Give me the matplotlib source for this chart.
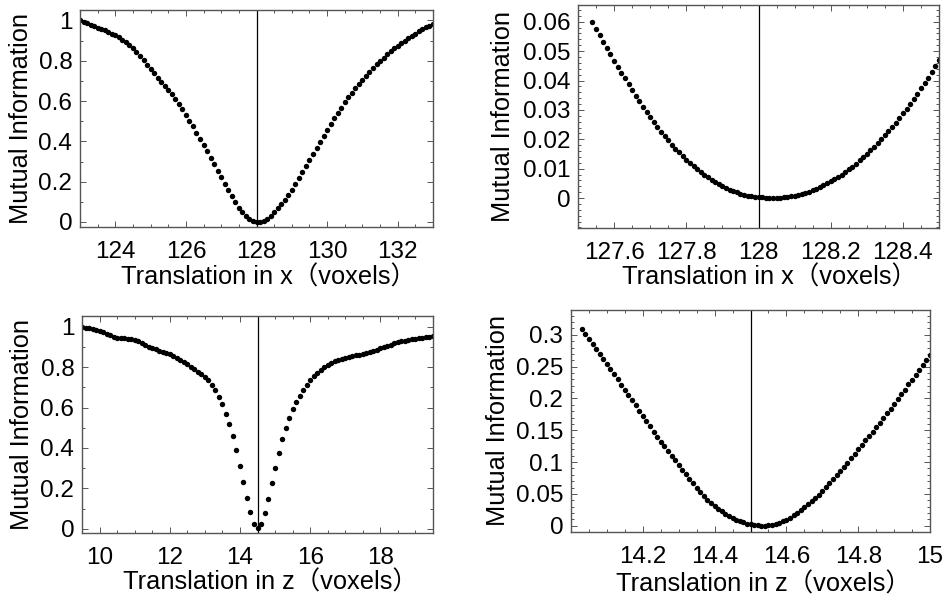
import numpy as np
import matplotlib
matplotlib.use("Agg")
import matplotlib.pyplot as plt
from matplotlib.ticker import FixedLocator, MultipleLocator

plt.rcParams['font.family'] = ['Liberation Sans', 'Noto Sans CJK SC', 'DejaVu Sans']

# ---------------- data ----------------
# Panel 1: translation in x, coarse (step 0.1 voxel)
x1_start, x1_stop, x1_step = 123.0, 133.0, 0.1
mi_x_coarse = [
    1.000, 0.994, 0.987, 0.980, 0.973, 0.965, 0.958, 0.951, 0.943, 0.935,
    0.926, 0.916, 0.905, 0.893, 0.879, 0.863, 0.845, 0.825, 0.803, 0.781,
    0.758, 0.737, 0.716, 0.695, 0.675, 0.655, 0.633, 0.610, 0.585, 0.559,
    0.531, 0.503, 0.474, 0.444, 0.414, 0.383, 0.351, 0.319, 0.286, 0.254,
    0.221, 0.189, 0.158, 0.128, 0.099, 0.071, 0.047, 0.028, 0.014, 0.005,
    0.0004, 0.001, 0.006, 0.015, 0.029, 0.047, 0.067, 0.088, 0.110, 0.134,
    0.160, 0.189, 0.220, 0.250, 0.280, 0.310, 0.339, 0.369, 0.399, 0.427,
    0.455, 0.485, 0.514, 0.542, 0.568, 0.593, 0.618, 0.642, 0.665, 0.685,
    0.705, 0.725, 0.745, 0.764, 0.782, 0.800, 0.816, 0.832, 0.847, 0.861,
    0.874, 0.887, 0.899, 0.911, 0.923, 0.935, 0.946, 0.957, 0.966, 0.975,
    0.984]

# Panel 2: translation in x, fine (step 0.01 voxel)
x2_start, x2_stop, x2_step = 127.54, 128.50, 0.01
mi_x_fine = [
    0.0598, 0.0576, 0.0554, 0.0532, 0.0511, 0.0489, 0.0467, 0.0447, 0.0427, 0.0407,
    0.0387, 0.0367, 0.0348, 0.0330, 0.0311, 0.0292, 0.0275, 0.0258, 0.0242, 0.0226,
    0.0211, 0.0196, 0.0182, 0.0168, 0.0155, 0.0143, 0.0131, 0.0120, 0.0109, 0.0099,
    0.0089, 0.0080, 0.0071, 0.0063, 0.0055, 0.0048, 0.0041, 0.0035, 0.0029, 0.0024,
    0.0019, 0.0015, 0.0011, 0.0008, 0.0006, 0.0004, 0.0003,
    0.0002, 0.0001, 0.0000, 0.0000, 0.0000, 0.0001, 0.0002, 0.0004, 0.0006, 0.0008,
    0.0011, 0.0014, 0.0018, 0.0022, 0.0027, 0.0032, 0.0038, 0.0044, 0.0050, 0.0057,
    0.0064, 0.0072, 0.0080, 0.0089, 0.0098, 0.0107, 0.0117, 0.0128, 0.0139, 0.0150,
    0.0162, 0.0174, 0.0187, 0.0200, 0.0213, 0.0227, 0.0242, 0.0257, 0.0272, 0.0288,
    0.0304, 0.0321, 0.0338, 0.0355, 0.0373, 0.0392, 0.0410, 0.0430, 0.0450, 0.0470]

# Panel 3: translation in z, coarse (step 0.1 voxel)
x3_start, x3_stop, x3_step = 9.5, 19.5, 0.1
mi_z_coarse = [
    0.998, 0.996, 0.992, 0.988, 0.983, 0.978, 0.972, 0.965, 0.957, 0.950,
    0.946, 0.944, 0.943, 0.941, 0.938, 0.934, 0.928, 0.920, 0.911, 0.902,
    0.895, 0.888, 0.882, 0.877, 0.871, 0.864, 0.856, 0.847, 0.837, 0.826,
    0.815, 0.803, 0.791, 0.778, 0.764, 0.750, 0.734, 0.713, 0.687, 0.654,
    0.615, 0.569, 0.519, 0.459, 0.390, 0.312, 0.230, 0.152, 0.081, 0.025,
    0.003, 0.025, 0.078, 0.147, 0.226, 0.303, 0.374, 0.443, 0.501, 0.550,
    0.592, 0.629, 0.659, 0.687, 0.712, 0.735, 0.755, 0.773, 0.788, 0.801,
    0.812, 0.821, 0.829, 0.835, 0.840, 0.845, 0.849, 0.853, 0.858, 0.862,
    0.866, 0.871, 0.876, 0.881, 0.887, 0.893, 0.899, 0.905, 0.911, 0.917,
    0.922, 0.927, 0.931, 0.935, 0.938, 0.941, 0.943, 0.945, 0.948, 0.951,
    0.954]

# Panel 4: translation in z, fine (step 0.01 voxel)
x4_start, x4_stop, x4_step = 14.03, 15.00, 0.01
mi_z_fine = [
    0.309, 0.302, 0.293, 0.285, 0.278, 0.270, 0.262, 0.254, 0.246, 0.238,
    0.230, 0.221, 0.214, 0.205, 0.197, 0.189, 0.181, 0.173, 0.164, 0.156,
    0.148, 0.140, 0.132, 0.125, 0.118, 0.110, 0.103, 0.095, 0.088, 0.081,
    0.074, 0.067, 0.060, 0.053, 0.046, 0.0406, 0.0355, 0.0308, 0.0264, 0.0224,
    0.0186, 0.0153, 0.0122, 0.0095, 0.0071, 0.0051, 0.0034, 0.0021, 0.0011, 0.0004,
    0.0000, 0.0000, 0.0005, 0.0015, 0.0028, 0.0047, 0.0070, 0.0097, 0.0128, 0.0164,
    0.020, 0.024, 0.029, 0.034, 0.039, 0.044, 0.049, 0.055, 0.061, 0.067,
    0.073, 0.080, 0.086, 0.093, 0.099, 0.106, 0.113, 0.120, 0.127, 0.134,
    0.141, 0.148, 0.155, 0.162, 0.170, 0.177, 0.184, 0.192, 0.199, 0.207,
    0.214, 0.222, 0.229, 0.237, 0.244, 0.252, 0.260, 0.268]

# reference positions (vertical lines)
ref_x = 128
ref_z = 14.5

# tick values and labels
p1_xticks = [124, 126, 128, 130, 132]
p1_xlabels = ['124', '126', '128', '130', '132']
p1_yticks = [0, 0.2, 0.4, 0.6, 0.8, 1.0]
p1_ylabels = ['0', '0.2', '0.4', '0.6', '0.8', '1']

p2_xticks = [127.6, 127.8, 128.0, 128.2, 128.4]
p2_xlabels = ['127.6', '127.8', '128', '128.2', '128.4']
p2_yticks = [0, 0.01, 0.02, 0.03, 0.04, 0.05, 0.06]
p2_ylabels = ['0', '0.01', '0.02', '0.03', '0.04', '0.05', '0.06']

p3_xticks = [10, 12, 14, 16, 18]
p3_xlabels = ['10', '12', '14', '16', '18']
p3_yticks = [0, 0.2, 0.4, 0.6, 0.8, 1.0]
p3_ylabels = ['0', '0.2', '0.4', '0.6', '0.8', '1']

p4_xticks = [14.2, 14.4, 14.6, 14.8, 15.0]
p4_xlabels = ['14.2', '14.4', '14.6', '14.8', '15']
p4_yticks = [0, 0.05, 0.1, 0.15, 0.2, 0.25, 0.3]
p4_ylabels = ['0', '0.05', '0.1', '0.15', '0.2', '0.25', '0.3']

ylabel_text = 'Mutual Information'
xlabel_x = 'Translation in x\uff08voxels\uff09'
xlabel_z = 'Translation in z\uff08voxels\uff09'


def grid(start, stop, step):
    n = int(round((stop - start) / step)) + 1
    return np.round(start + step * np.arange(n), 4)


# ---------------- figure ----------------
W, H = 948, 599
fig = plt.figure(figsize=(W / 100, H / 100), dpi=100)
frame_col = '#555555'


def rect(l, r, t, b):
    return [l / W, 1 - b / H, (r - l) / W, (b - t) / H]


def panel(box, x, y, vline, xlim, ylim, xt, xl, yt, yl, xminor, yminor,
          xlab, ylab, xlab_pos, ylab_pos):
    ax = fig.add_axes(rect(*box))
    ax.plot(x, y, 'o', color='black', markersize=3.9, markeredgewidth=0)
    ax.axvline(vline, color='black', lw=0.9)
    ax.set_xlim(*xlim)
    ax.set_ylim(*ylim)
    ax.xaxis.set_major_locator(FixedLocator(xt))
    ax.set_xticklabels(xl)
    ax.yaxis.set_major_locator(FixedLocator(yt))
    ax.set_yticklabels(yl)
    ax.xaxis.set_minor_locator(MultipleLocator(xminor))
    ax.yaxis.set_minor_locator(MultipleLocator(yminor))
    ax.tick_params(which='both', direction='in', top=True, right=True,
                   color=frame_col, width=0.7)
    ax.tick_params(which='major', length=4.0)
    ax.tick_params(which='minor', length=2.2)
    ax.tick_params(axis='x', which='major', pad=10.0, labelsize=17.5)
    ax.tick_params(axis='y', which='major', pad=5.5, labelsize=17.5)
    for s in ax.spines.values():
        s.set_color(frame_col)
        s.set_linewidth(1.0)
    ax.set_xlabel(xlab, fontsize=18.3)
    ax.xaxis.label.set_ha('left')
    ax.xaxis.label.set_va('baseline')
    ax.xaxis.set_label_coords(xlab_pos[0] / W, 1 - xlab_pos[1] / H,
                              transform=fig.transFigure)
    ax.set_ylabel(ylab, fontsize=18.3)
    ax.yaxis.label.set_rotation_mode('anchor')
    ax.yaxis.label.set_ha('center')
    ax.yaxis.label.set_va('baseline')
    ax.yaxis.set_label_coords(ylab_pos[0] / W, 1 - ylab_pos[1] / H,
                              transform=fig.transFigure)
    return ax


panel((80, 433, 10, 227), grid(x1_start, x1_stop, x1_step), mi_x_coarse, ref_x,
      (123, 133), (-0.025, 1.052), p1_xticks, p1_xlabels, p1_yticks, p1_ylabels,
      0.5, 0.1, xlabel_x, ylabel_text, (121, 284.5), (28.5, 118))

panel((578, 939, 5, 228), grid(x2_start, x2_stop, x2_step), mi_x_fine, ref_x,
      (127.5, 128.5), (-0.0102, 0.0657), p2_xticks, p2_xlabels, p2_yticks, p2_ylabels,
      0.05, 0.002, xlabel_x, ylabel_text, (621.5, 285), (510.5, 116.5))

panel((82, 433, 316, 533), grid(x3_start, x3_stop, x3_step), mi_z_coarse, ref_z,
      (9.5, 19.5), (-0.021, 1.053), p3_xticks, p3_xlabels, p3_yticks, p3_ylabels,
      0.5, 0.1, xlabel_z, ylabel_text, (123.5, 590), (29, 424.5))

panel((571, 930, 310, 532), grid(x4_start, x4_stop, x4_step), mi_z_fine, ref_z,
      (14.0, 15.0), (-0.0099, 0.339), p4_xticks, p4_xlabels, p4_yticks, p4_ylabels,
      0.05, 0.01, xlabel_z, ylabel_text, (616, 591.5), (505.5, 421))

fig.savefig('out.png', dpi=100)
